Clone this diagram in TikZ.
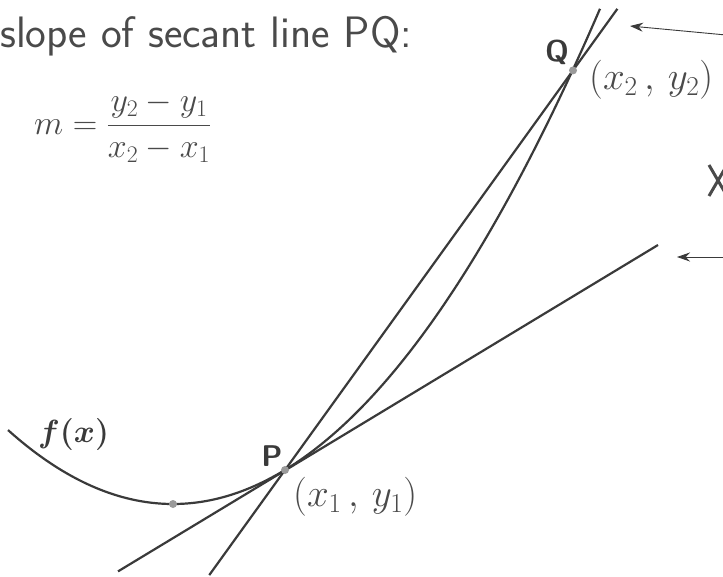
\RequirePackage{fix-cm}
\documentclass[tikz,border=0pt]{standalone}
\usepackage{amsmath}
\usetikzlibrary{arrows.meta,calc}
\definecolor{ink}{HTML}{3A3A3A}
\definecolor{hand}{HTML}{4A4A4A}
\definecolor{dotgray}{HTML}{9A9A9A}
\begin{document}
\begin{tikzpicture}[x=1pt,y=-1pt,
  graphline/.style={ink, line width=2.2pt},
  pointer/.style={ink, line width=0.9pt, -{Stealth[length=13pt,width=9pt]}},
  handtext/.style={hand, inner sep=0pt, font=\sffamily\fontsize{44}{48}\selectfont},
  handmath/.style={hand, inner sep=0pt, font=\fontsize{34}{38}\selectfont},
  handcoord/.style={hand, inner sep=0pt, font=\fontsize{39}{43}\selectfont},
  ptlabel/.style={ink, inner sep=0pt, font=\sffamily\bfseries\fontsize{30}{34}\selectfont},
  fxlabel/.style={ink, inner sep=0pt, font=\fontsize{32}{36}\selectfont, anchor=base west},
  gdot/.style={circle, fill=dotgray, inner sep=0pt, minimum size=8pt}]
\useasboundingbox (0,0) rectangle (723,577);
% key points
\coordinate (P) at (285,470);
\coordinate (Q) at (573,70.4);
\coordinate (M) at (173,504);
\coordinate (tanA) at (118,571.4);
\coordinate (tanB) at (658,245);
\coordinate (secA) at ($(P)!-0.263!(Q)$);
\coordinate (secB) at ($(P)!1.154!(Q)$);
% curve f(x)
\draw[graphline] plot[domain=8:600, samples=120, smooth] (\x, {504-0.00271*(\x-173)*(\x-173)});
% secant and tangent
\draw[graphline] (secA) -- (secB);
\draw[graphline] (tanA) -- (tanB);
% dots
\node[gdot] (dP) at (P) {};
\node[gdot] (dQ) at (Q) {};
\node[gdot] (dM) at (M) {};
% labels
\node[ptlabel] (lP) at (272,456) {P};
\node[ptlabel] (lQ) at (557,52) {Q};
\node[fxlabel] (lf) at (38,442) {$\boldsymbol{f(x)}$};
\node[handcoord, anchor=west] (lx1) at (293,497) {$(x_1\,,\,y_1)$};
\node[handcoord, anchor=west] (lx2) at (589,80) {$(x_2\,,\,y_2)$};
% title and formula
\node[handtext, anchor=base west] (title) at (0,48) {slope of secant line PQ:};
\node[handmath, anchor=west] (formula) at (34,127) {$m=\dfrac{y_2-y_1}{x_2-x_1}$};
% arrows from the right edge
\coordinate (a1s) at (726,35);
\coordinate (a1e) at (630,26);
\coordinate (a2s) at (726,257);
\coordinate (a2e) at (677,257);
\draw[pointer] (a1s) -- (a1e);
\draw[pointer] (a2s) -- (a2e);
% partial mark at the right edge
\coordinate (s1) at (709,165);
\coordinate (s2) at (727,196);
\coordinate (s3) at (709,196);
\coordinate (s4) at (727,165);
\draw[hand, line width=3pt] (s1) -- (s2) (s3) -- (s4);
\end{tikzpicture}
\end{document}
